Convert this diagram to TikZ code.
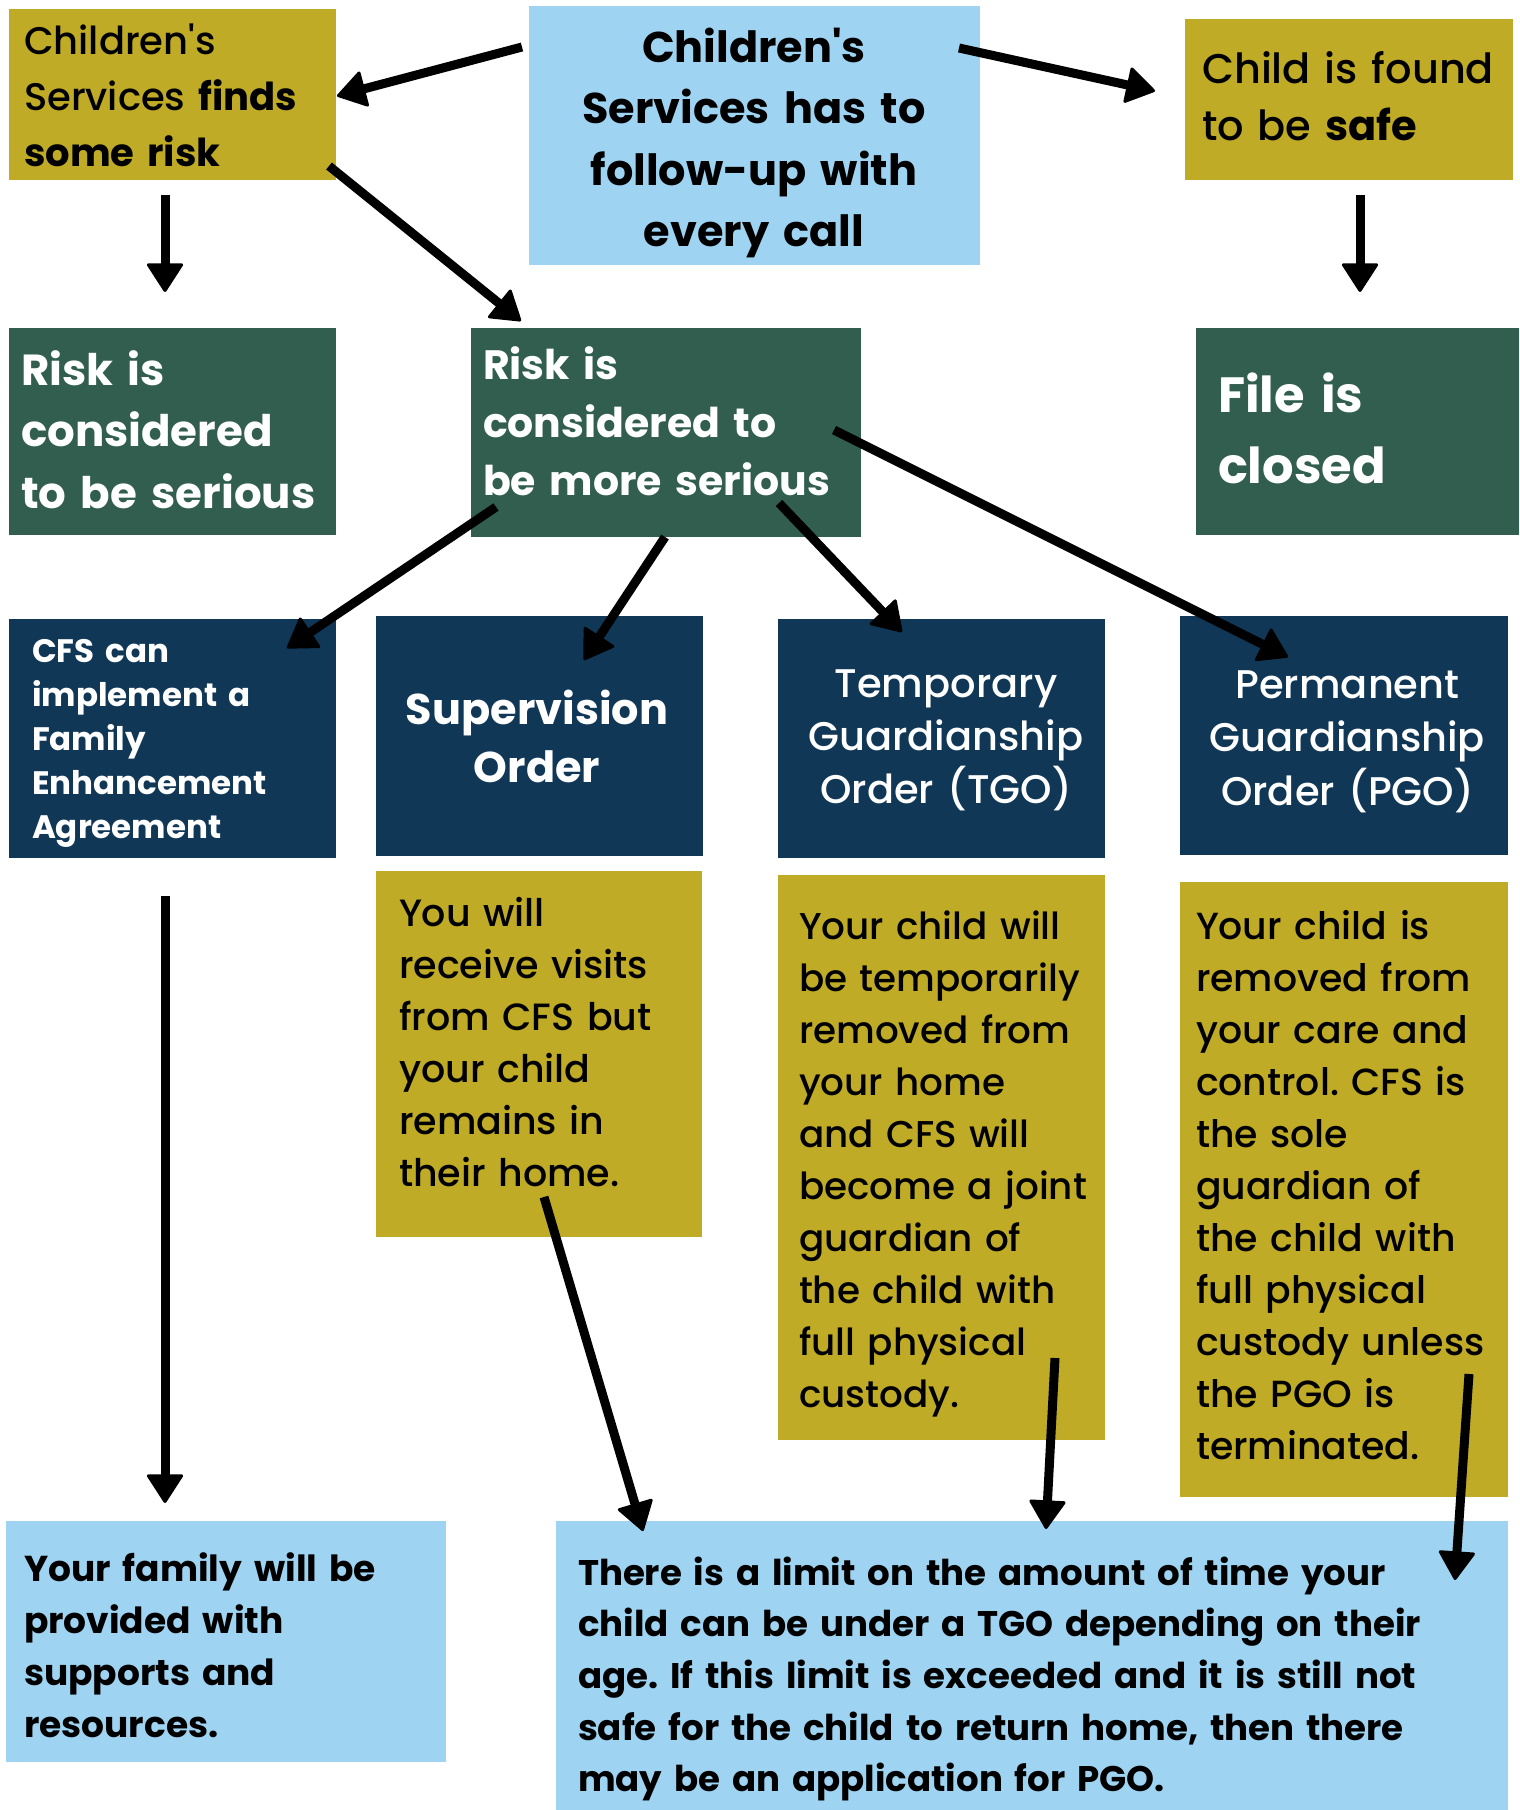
\documentclass[tikz,border=0pt]{standalone}
\usepackage{fontspec}
\setmainfont{Poppins}
\IfFontExistsTF{Poppins Medium}{\newfontfamily\medf{Poppins Medium}}{\newfontfamily\medf{Poppins}}
\usetikzlibrary{arrows.meta}
\definecolor{olive}{RGB}{191,171,38}
\definecolor{lblue}{RGB}{158,211,241}
\definecolor{dgreen}{RGB}{49,94,79}
\definecolor{navy}{RGB}{16,55,86}
\newcommand{\fs}[2]{\fontsize{#1pt}{#2pt}\selectfont}
\frenchspacing
\tikzset{
  box/.style={draw=none, inner sep=0pt, outer sep=0pt, anchor=north west},
  txt/.style={inner sep=0pt, outer sep=0pt, anchor=base west, align=left, text width=#1},
  ctxt/.style={inner sep=0pt, outer sep=0pt, anchor=base, align=center, text width=#1},
  arr/.style={line width=9pt, -{Triangle[length=30pt,width=38pt,line width=3pt,round]}},
}
\begin{document}
\begin{tikzpicture}[x=1pt,y=-1pt]
\useasboundingbox (0,0) rectangle (1519,1810);
% boxes
\node[box, fill=olive, minimum width=327pt, minimum height=171pt] (b1) at (9,9) {};
\node[box, fill=lblue, minimum width=451pt, minimum height=259pt] (b2) at (529,6) {};
\node[box, fill=olive, minimum width=328pt, minimum height=161pt] (b3) at (1185,19) {};
\node[box, fill=dgreen, minimum width=327pt, minimum height=207pt] (b4) at (9,328) {};
\node[box, fill=dgreen, minimum width=390pt, minimum height=209pt] (b5) at (471,328) {};
\node[box, fill=dgreen, minimum width=323pt, minimum height=207pt] (b6) at (1196,328) {};
\node[box, fill=navy, minimum width=327pt, minimum height=239pt] (b7) at (9,619) {};
\node[box, fill=navy, minimum width=327pt, minimum height=240pt] (b8) at (376,616) {};
\node[box, fill=navy, minimum width=327pt, minimum height=239pt] (b9) at (778,619) {};
\node[box, fill=navy, minimum width=328pt, minimum height=239pt] (b10) at (1180,616) {};
\node[box, fill=olive, minimum width=326pt, minimum height=366pt] (b11) at (376,871) {};
\node[box, fill=olive, minimum width=327pt, minimum height=565pt] (b12) at (778,875) {};
\node[box, fill=olive, minimum width=328pt, minimum height=615pt] (b13) at (1180,882) {};
\node[box, fill=lblue, minimum width=440pt, minimum height=241pt] (b14) at (6,1521) {};
\node[box, fill=lblue, minimum width=952pt, minimum height=290pt] (b15) at (556,1521) {};
% texts
\node[txt=315pt, font=\medf\fs{38.5}{56}] (t1) at (24,54) {Children\textquotesingle s\\Services {\normalfont\fs{38.5}{56}\bfseries finds}\\{\normalfont\fs{38.5}{56}\bfseries some risk}};
\node[ctxt=440pt, font=\fs{43}{61.5}\bfseries] (t2) at (754,62) {Children\textquotesingle s\\Services has to\\follow-up with\\every call};
\node[txt=315pt, font=\medf\fs{41.5}{57}] (t3) at (1202,83) {Child is found\\to be {\normalfont\fs{41.5}{57}\bfseries safe}};
\node[txt=315pt, font=\fs{43.5}{61.5}\bfseries, text=white] (t4) at (21,385) {Risk is\\considered\\to be serious};
\node[txt=375pt, font=\fs{41}{58}\bfseries, text=white] (t5) at (483,379) {Risk is\\considered to\\be more serious};
\node[txt=300pt, font=\fs{49.5}{71}\bfseries, text=white] (t6) at (1218,412) {File is\\closed};
\node[txt=300pt, font=\fs{32.5}{44}\bfseries, text=white] (t7) at (32,662) {CFS can\\implement a\\Family\\Enhancement\\Agreement};
\node[ctxt=320pt, font=\fs{43}{58}\bfseries, text=white] (t8) at (537,724) {Supervision\\Order};
\node[ctxt=325pt, font=\medf\fs{40}{53}, text=white] (t9) at (946,697) {Temporary\\Guardianship\\Order (TGO)};
\node[ctxt=325pt, font=\medf\fs{40}{53.5}, text=white] (t10) at (1347.5,698) {Permanent\\Guardianship\\Order (PGO)};
\node[txt=310pt, font=\medf\fs{38}{52}] (t11) at (399,926) {You will\\receive visits\\from CFS but\\your child\\remains in\\their home.};
\node[txt=310pt, font=\medf\fs{37.3}{52}] (t12) at (799,939) {Your child will\\be temporarily\\removed from\\your home\\and CFS will\\become a joint\\guardian of\\the child with\\full physical\\custody.};
\node[txt=315pt, font=\medf\fs{37.8}{52}] (t13) at (1196,939) {Your child is\\removed from\\your care and\\control. CFS is\\the sole\\guardian of\\the child with\\full physical\\custody unless\\the PGO is\\terminated.};
\node[txt=425pt, font=\fs{36}{52}\bfseries] (t14) at (24,1581) {Your family will be\\provided with\\supports and\\resources.};
\node[txt=925pt, font=\fs{35.6}{51.7}\bfseries] (t15) at (578,1585) {There is a limit on the amount of time your\\child can be under a TGO depending on their\\age. If this limit is exceeded and it is still not\\safe for the child to return home, then there\\may be an application for PGO.};
% arrow end points
\coordinate (a1s) at (522,47);   \coordinate (a1e) at (337,96);
\coordinate (a2s) at (959,48);   \coordinate (a2e) at (1155,91);
\coordinate (a3s) at (165,195);  \coordinate (a3e) at (165,292);
\coordinate (a4s) at (329,166);  \coordinate (a4e) at (521,321);
\coordinate (a5s) at (1360,195); \coordinate (a5e) at (1360,292);
\coordinate (a6s) at (496,507);  \coordinate (a6e) at (287,648);
\coordinate (a7s) at (665,537);  \coordinate (a7e) at (584,660);
\coordinate (a8s) at (779,503);  \coordinate (a8e) at (902,632);
\coordinate (a9s) at (834,430);  \coordinate (a9e) at (1288,657);
\coordinate (a10s) at (165,896); \coordinate (a10e) at (165,1503);
\coordinate (a11s) at (544,1197);\coordinate (a11e) at (643,1531);
\coordinate (a12s) at (1055,1358);\coordinate (a12e) at (1046,1529);
\coordinate (a13s) at (1469,1374);\coordinate (a13e) at (1455,1580);
\foreach \i in {1,...,13} {\draw[arr] (a\i s) -- (a\i e);}
\end{tikzpicture}
\end{document}
